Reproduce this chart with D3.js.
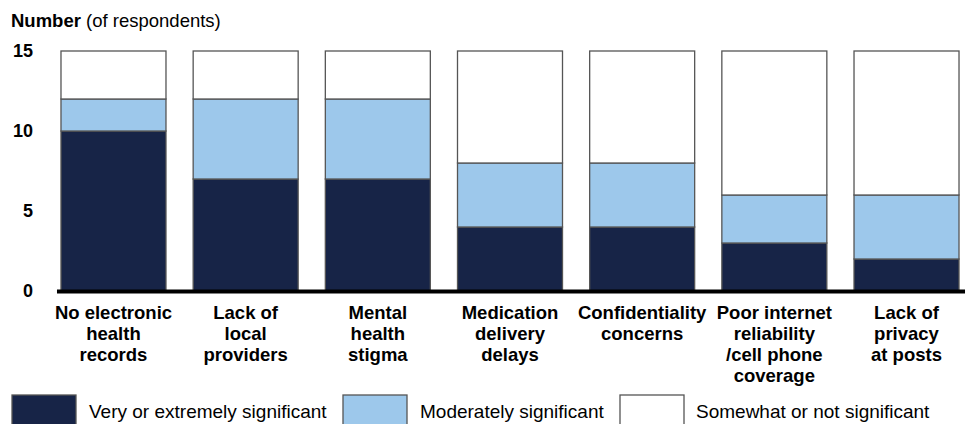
<!DOCTYPE html>
<html>
<head>
<meta charset="utf-8">
<script src="https://cdn.jsdelivr.net/npm/d3@7"></script>
<style>
  html, body { margin: 0; padding: 0; background: #fff; }
  svg { display: block; font-family: Arial, "Liberation Sans", Helvetica, sans-serif; }
</style>
</head>
<body>
<svg id="chart" width="967" height="424"></svg>
<script>
const categories = [
  ["No electronic", "health", "records"],
  ["Lack of", "local", "providers"],
  ["Mental", "health", "stigma"],
  ["Medication", "delivery", "delays"],
  ["Confidentiality", "concerns"],
  ["Poor internet", "reliability", "/cell phone", "coverage"],
  ["Lack of", "privacy", "at posts"]
];
const veryExtremely = [10, 7, 7, 4, 4, 3, 2];
const moderately    = [2, 5, 5, 4, 4, 3, 4];
const somewhatNot   = [3, 3, 3, 7, 7, 9, 9];
const seriesNames = ["Very or extremely significant", "Moderately significant", "Somewhat or not significant"];
const seriesColors = ["#172447", "#9DC8EB", "#FFFFFF"];
const yTicks = [0, 5, 10, 15];

const svg = d3.select("#chart");
const keys = ["a", "b", "c"];
const rows = categories.map((c, i) => ({ idx: i, a: veryExtremely[i], b: moderately[i], c: somewhatNot[i] }));
const stacked = d3.stack().keys(keys)(rows);

const x = d3.scaleBand().domain(d3.range(categories.length))
  .range([47.4, 972.6]).paddingInner(0.2056).paddingOuter(0.1028);
const y = d3.scaleLinear().domain([0, 15]).range([291, 51]);

// subtitle
const sub = svg.append("text").attr("x", 11).attr("y", 27).attr("font-size", 18.5).attr("fill", "#000");
sub.append("tspan").attr("font-weight", "bold").text("Number");
sub.append("tspan").text(" (of respondents)");

// bars
const g = svg.append("g");
stacked.forEach((layer, li) => {
  g.selectAll(null).data(layer).enter().append("rect")
    .attr("x", d => x(d.data.idx))
    .attr("width", x.bandwidth())
    .attr("y", d => y(d[1]))
    .attr("height", d => y(d[0]) - y(d[1]))
    .attr("fill", seriesColors[li])
    .attr("stroke", "#555")
    .attr("stroke-width", 1.3);
});

// y axis labels
const yAxis = d3.axisLeft(y).tickValues(yTicks).tickSize(0).tickPadding(0);
const ya = svg.append("g").attr("transform", "translate(33,0)").call(yAxis);
ya.select(".domain").remove();
ya.selectAll("text").attr("font-size", 18).attr("font-weight", "bold").attr("fill", "#000")
  .attr("font-family", "Arial, 'Liberation Sans', sans-serif").attr("dy", "0.32em");

// baseline
svg.append("line")
  .attr("x1", x(0) - 4).attr("x2", x(categories.length - 1) + x.bandwidth() + 6)
  .attr("y1", y(0) + 0.5).attr("y2", y(0) + 0.5)
  .attr("stroke", "#000").attr("stroke-width", 4);

// category labels
const xl = svg.append("g");
categories.forEach((lines, i) => {
  const t = xl.append("text")
    .attr("x", x(i) + x.bandwidth() / 2)
    .attr("y", 319)
    .attr("text-anchor", "middle")
    .attr("font-size", 18.5).attr("font-weight", "bold").attr("fill", "#000");
  lines.forEach((ln, j) => {
    t.append("tspan").attr("x", x(i) + x.bandwidth() / 2).attr("dy", j === 0 ? 0 : 21).text(ln);
  });
});

// legend
const legendX = [12, 343, 620];
const legendTextX = [89, 420, 696];
seriesNames.forEach((name, i) => {
  svg.append("rect").attr("x", legendX[i]).attr("y", 395).attr("width", 64).attr("height", 34)
    .attr("fill", seriesColors[i]).attr("stroke", "#555").attr("stroke-width", 1.3);
  svg.append("text").attr("x", legendTextX[i]).attr("y", 418)
    .attr("font-size", 19).attr("fill", "#000").text(name);
});
</script>
</body>
</html>
